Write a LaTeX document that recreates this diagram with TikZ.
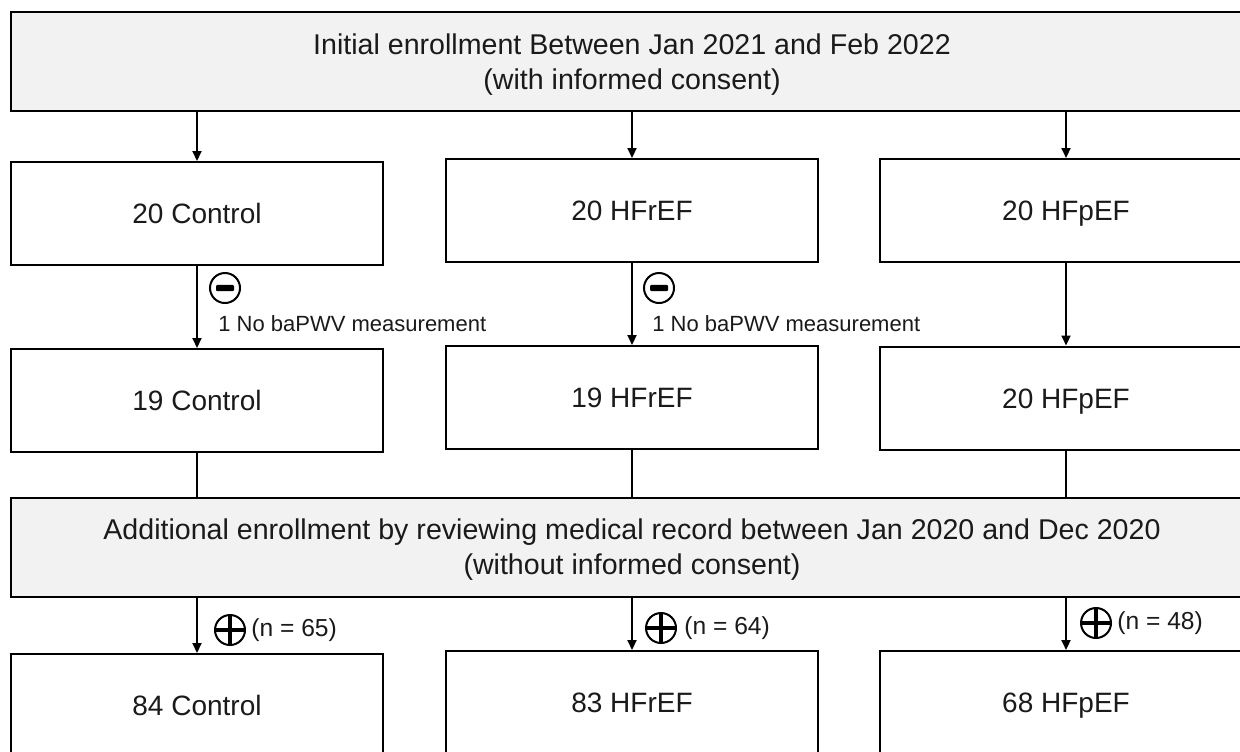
\documentclass[tikz,border=0pt]{standalone}
\usepackage{fontspec}
\setmainfont{Liberation Sans}
\usetikzlibrary{arrows.meta}
\definecolor{bandgray}{HTML}{F2F2F2}
\definecolor{textc}{HTML}{1A1A1A}
\begin{document}
\begin{tikzpicture}[x=0.5pt,y=-0.5pt,
  box/.style={draw=black,line width=1pt,fill=white,minimum width=186pt,minimum height=51.5pt,inner sep=0pt,font=\fontsize{14}{17}\selectfont,text=textc,text height=10pt,text depth=0pt},
  band/.style={draw=black,line width=1pt,fill=bandgray,minimum width=621pt,minimum height=49.5pt,inner sep=0pt},
  bandtext/.style={inner sep=0pt,align=center,font=\fontsize{14.3}{17.5}\selectfont,text=textc},
  arr/.style={line width=1pt,-{Triangle[length=5pt,width=4.5pt]}},
  ln/.style={line width=1pt},
  minusmark/.style={circle,draw=black,fill=white,line width=1pt,minimum size=15pt,inner sep=0pt,
    path picture={\fill[black,rounded corners=0.6pt] ([xshift=-4.5pt,yshift=-1.6pt]path picture bounding box.center) rectangle ([xshift=4.5pt,yshift=1.6pt]path picture bounding box.center);}},
  plusmark/.style={circle,draw=black,fill=white,line width=1pt,minimum size=15pt,inner sep=0pt,
    path picture={\draw[line width=1.9pt] (path picture bounding box.west) -- (path picture bounding box.east) (path picture bounding box.north) -- (path picture bounding box.south);}},
  lbl/.style={font=\fontsize{11}{13}\selectfont,inner sep=0pt,anchor=west,text=textc},
  nlbl/.style={font=\fontsize{12.3}{14}\selectfont,inner sep=0pt,anchor=west,text=textc},
]
\fill[white] (0,0) rectangle (1240,751);
\useasboundingbox (0,0) rectangle (1240,751);
\clip (0,0) rectangle (1240,751);

% bands
\node[band] (top) at (632,61.5) {};
\node[bandtext] (toptext) at (632,65) {Initial enrollment Between Jan 2021 and Feb 2022\\(with informed consent)};
\node[band] (mid) at (632,547.5) {};
\node[bandtext] (midtext) at (632,550) {Additional enrollment by reviewing medical record between Jan 2020 and Dec 2020\\(without informed consent)};

% row 1
\node[box] (c1) at (197,213.5) {20 Control};
\node[box] (r1) at (632,210.5) {20 HFrEF};
\node[box] (p1) at (1066,210.5) {20 HFpEF};
% row 2
\node[box] (c2) at (197,400.5) {19 Control};
\node[box] (r2) at (632,397.5) {19 HFrEF};
\node[box] (p2) at (1066,398) {20 HFpEF};
% row 3
\node[box] (c3) at (197,705.5) {84 Control};
\node[box] (r3) at (632,702.5) {83 HFrEF};
\node[box] (p3) at (1066,702.5) {68 HFpEF};

% top band to row 1
\draw[arr] (top.south -| c1.north) -- (c1.north);
\draw[arr] (top.south -| r1.north) -- (r1.north);
\draw[arr] (top.south -| p1.north) -- (p1.north);

% row 1 to row 2
\draw[arr] (c1.south) -- (c2.north);
\draw[arr] (r1.south) -- (r2.north);
\draw[arr] (p1.south) -- (p2.north);

\node[minusmark] (m1) at (225,288) {};
\node[lbl] (l1) at (218,324) {1 No baPWV measurement};
\node[minusmark] (m2) at (659,288) {};
\node[lbl] (l2) at (652,324) {1 No baPWV measurement};

% row 2 to middle band
\draw[ln] (c2.south) -- (c2.south |- mid.north);
\draw[ln] (r2.south) -- (r2.south |- mid.north);
\draw[ln] (p2.south) -- (p2.south |- mid.north);

% middle band to row 3
\draw[arr] (mid.south -| c3.north) -- (c3.north);
\draw[arr] (mid.south -| r3.north) -- (r3.north);
\draw[arr] (mid.south -| p3.north) -- (p3.north);

\node[plusmark] (a1) at (230,630) {};
\node[nlbl] (n1) at (251,630) {(n = 65)};
\node[plusmark] (a2) at (661,628) {};
\node[nlbl] (n2) at (684,628) {(n = 64)};
\node[plusmark] (a3) at (1096,623) {};
\node[nlbl] (n3) at (1117,623) {(n = 48)};
\end{tikzpicture}
\end{document}
